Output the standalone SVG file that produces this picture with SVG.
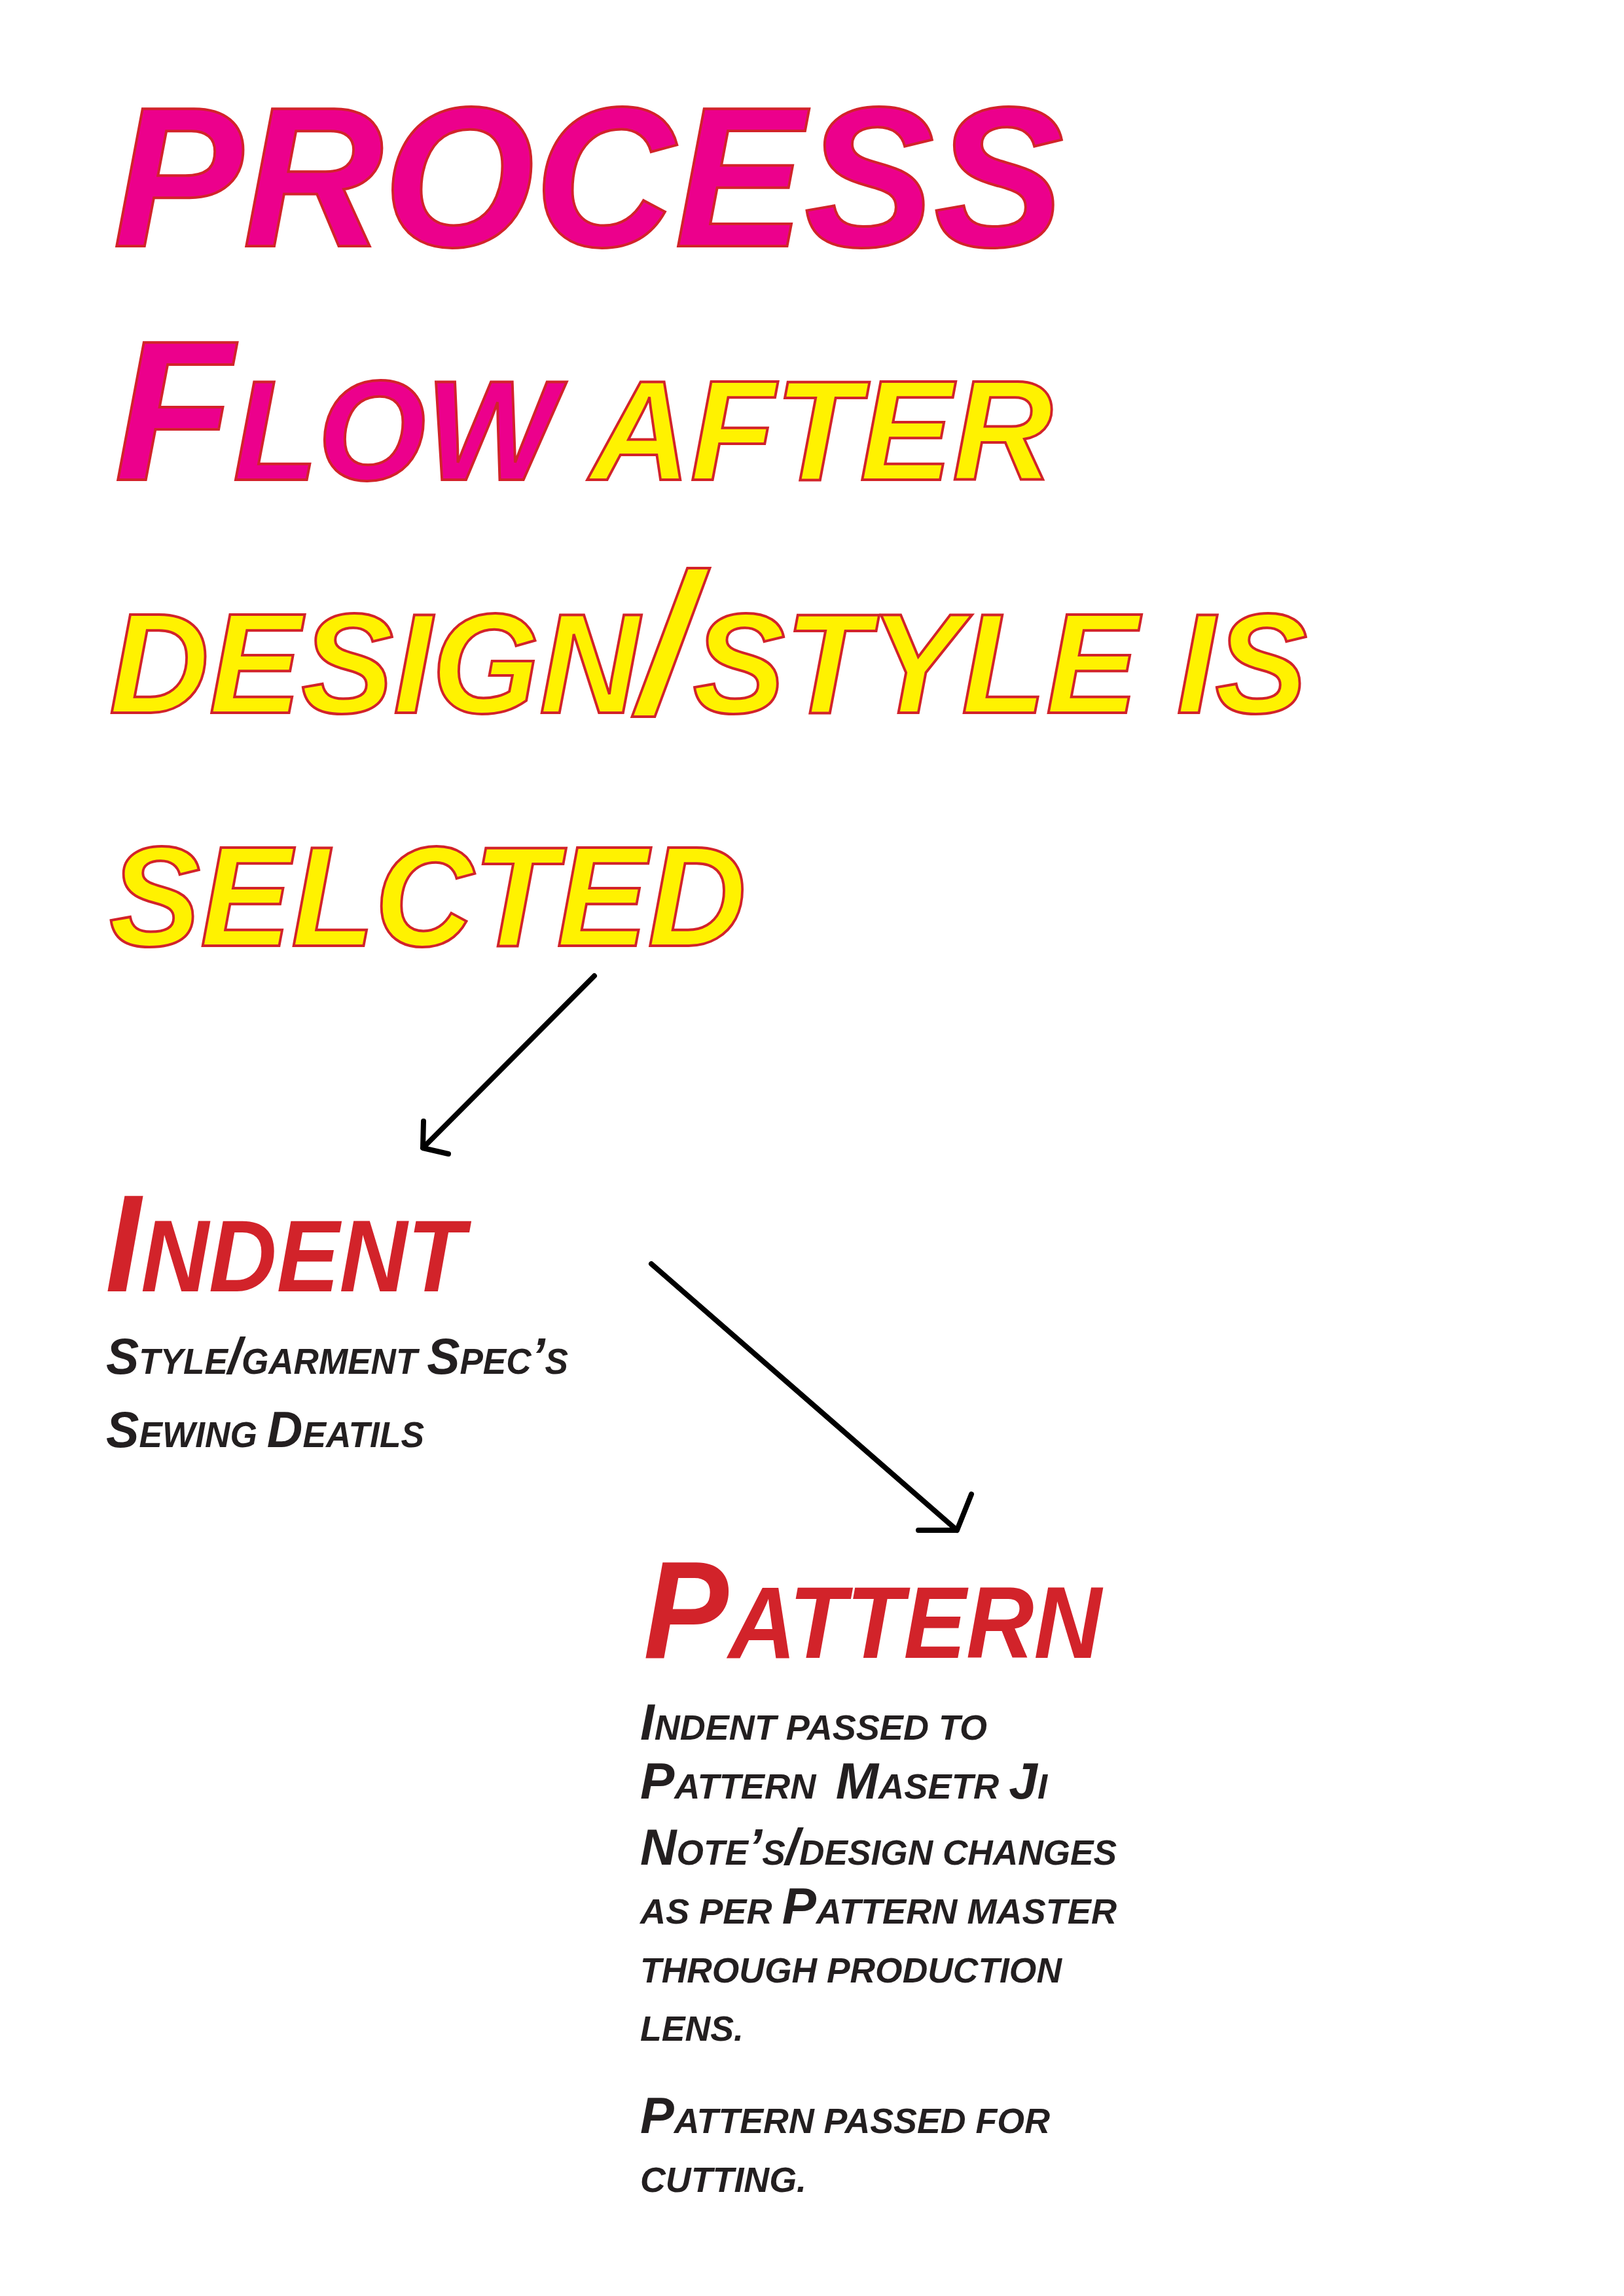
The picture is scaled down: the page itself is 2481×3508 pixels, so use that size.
<svg xmlns="http://www.w3.org/2000/svg" width="2481" height="3508" viewBox="0 0 2481 3508">
<style>
.t{font-family:"Liberation Sans",Arial,sans-serif;font-weight:bold;font-style:italic}
.pink{fill:#EC008C;stroke:#D2232A;stroke-width:4}
.yel{fill:#FFF200;stroke:#D2232A;stroke-width:4}
.red{fill:#D2232A}
.dk{fill:#231F20}
.arr{fill:none;stroke:#000;stroke-width:8;stroke-linecap:round;stroke-linejoin:round}
</style>
<rect width="2481" height="3508" fill="#fff"/>
<g id="title">
<text class="t pink" x="173" y="376" font-size="305" textLength="1452" lengthAdjust="spacingAndGlyphs">PROCESS</text>
<text class="t" x="175" y="733" textLength="1433" lengthAdjust="spacingAndGlyphs"><tspan class="pink" font-size="305">F</tspan><tspan class="pink" font-size="218">LOW</tspan><tspan class="yel" font-size="218"> AFTER</tspan></text>
<text class="t yel" x="167" y="1089" textLength="1830" lengthAdjust="spacingAndGlyphs"><tspan font-size="218">DESIGN</tspan><tspan font-size="305">/</tspan><tspan font-size="218">STYLE IS</tspan></text>
<text class="t yel" x="167" y="1445" font-size="218" textLength="973" lengthAdjust="spacingAndGlyphs">SELCTED</text>
</g>
<g id="indent">
<text class="t red" x="161" y="1973" textLength="549" lengthAdjust="spacingAndGlyphs"><tspan font-size="212">I</tspan><tspan font-size="156">NDENT</tspan></text>
<text class="t dk" x="162" y="2099" textLength="706" lengthAdjust="spacingAndGlyphs"><tspan font-size="78">S</tspan><tspan font-size="55">TYLE</tspan><tspan font-size="78">/</tspan><tspan font-size="55">GARMENT </tspan><tspan font-size="78">S</tspan><tspan font-size="55">PEC</tspan><tspan font-size="78">’</tspan><tspan font-size="55">S</tspan></text>
<text class="t dk" x="162" y="2211" textLength="486" lengthAdjust="spacingAndGlyphs"><tspan font-size="78">S</tspan><tspan font-size="55">EWING </tspan><tspan font-size="78">D</tspan><tspan font-size="55">EATILS</tspan></text>
</g>
<g id="pattern">
<text class="t red" x="983" y="2533" textLength="700" lengthAdjust="spacingAndGlyphs"><tspan font-size="212">P</tspan><tspan font-size="156">ATTERN</tspan></text>
<text class="t dk" x="978" y="2658" textLength="530" lengthAdjust="spacingAndGlyphs"><tspan font-size="78">I</tspan><tspan font-size="54">NDENT PASSED TO</tspan></text>
<text class="t dk" x="978" y="2748" textLength="622" lengthAdjust="spacingAndGlyphs" xml:space="preserve"><tspan font-size="78">P</tspan><tspan font-size="54">ATTERN  </tspan><tspan font-size="78">M</tspan><tspan font-size="54">ASETR </tspan><tspan font-size="78">J</tspan><tspan font-size="54">I</tspan></text>
<text class="t dk" x="978" y="2849" textLength="728" lengthAdjust="spacingAndGlyphs"><tspan font-size="78">N</tspan><tspan font-size="54">OTE</tspan><tspan font-size="78">’</tspan><tspan font-size="54">S</tspan><tspan font-size="78">/</tspan><tspan font-size="54">DESIGN CHANGES</tspan></text>
<text class="t dk" x="978" y="2939" textLength="728" lengthAdjust="spacingAndGlyphs"><tspan font-size="54">AS PER </tspan><tspan font-size="78">P</tspan><tspan font-size="54">ATTERN MASTER</tspan></text>
<text class="t dk" x="978" y="3029" font-size="54" textLength="644" lengthAdjust="spacingAndGlyphs">THROUGH PRODUCTION</text>
<text class="t dk" x="978" y="3118" font-size="54" textLength="158" lengthAdjust="spacingAndGlyphs">LENS.</text>
<text class="t dk" x="978" y="3259" textLength="626" lengthAdjust="spacingAndGlyphs"><tspan font-size="78">P</tspan><tspan font-size="54">ATTERN PASSED FOR</tspan></text>
<text class="t dk" x="978" y="3349" font-size="54" textLength="254" lengthAdjust="spacingAndGlyphs">CUTTING.</text>
</g>
<g id="connectors">
<path class="arr" d="M908 1491 L646 1754 M647 1713 L646 1754 L685 1763"/>
<path class="arr" d="M995 1931 L1462 2338 M1484 2283 L1462 2338 L1403 2338"/>
</g>
</svg>
